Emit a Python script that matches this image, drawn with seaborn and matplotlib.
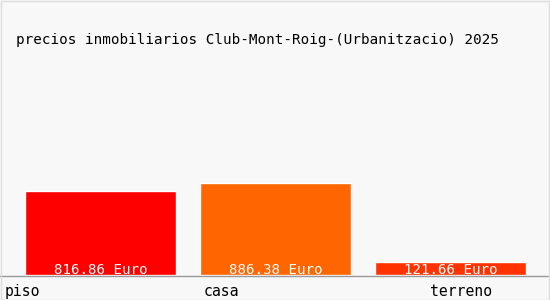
import matplotlib
matplotlib.use("Agg")
import matplotlib.pyplot as plt
import matplotlib.transforms as mtransforms
from matplotlib.patches import Rectangle
import seaborn as sns
import pandas as pd

categories = ["piso", "casa", "terreno"]
values = [816.86, 886.38, 121.66]
value_labels = ["816.86 Euro", "886.38 Euro", "121.66 Euro"]
colors = ["#FF0000", "#FF6600", "#FF3300"]
title = "precios inmobiliarios Club-Mont-Roig-(Urbanitzacio) 2025"

sns.set_theme(style="white")
plt.rcParams['font.family'] = ['DejaVu Sans Mono', 'DejaVu Sans']

bg = "#F8F8F8"
fig = plt.figure(figsize=(5.5, 3.0), dpi=100, facecolor=bg)
ax = fig.add_axes([0.0, 25/300, 548/550, 215/300])
ax.set_facecolor(bg)

df = pd.DataFrame({"cat": categories, "val": values})
sns.barplot(data=df, x="cat", y="val", hue="cat", palette=colors,
            width=151/175, legend=False, saturation=1, ax=ax, dodge=False)

ax.set_xlim(-100.5/175, (548-100.5)/175)
ax.set_ylim(0, 2080)
ax.set_xlabel("")
ax.set_ylabel("")
ax.set_yticks([])
ax.set_xticks([])
for s in ["top", "left", "right"]:
    ax.spines[s].set_visible(False)
ax.spines["bottom"].set_color("#999999")
ax.spines["bottom"].set_linewidth(1)
ax.spines["bottom"].set_position(("outward", 0.7))

for i, (v, lab) in enumerate(zip(values, value_labels)):
    ax.annotate(lab, xy=(i, 0), xytext=(0, 1.5), textcoords="offset pixels",
                ha="center", va="baseline", color="white", fontsize=10.2)

trans = mtransforms.blended_transform_factory(ax.transData, ax.transAxes)
label_pos = [(-0.55, "left"), (0.59, "left"), (2.06, "center")]
for (x, ha), lab in zip(label_pos, categories):
    ax.text(x, -0.04, lab, transform=trans, ha=ha, va="top",
            fontsize=10.6, color="black")

fig.text(258/550, 1 - 40/300, title, ha="center", va="center",
         fontsize=10.25, color="black")

fig.patches.append(Rectangle((0.5/550, 0.5/300), 548/550, 298.5/300,
                             transform=fig.transFigure, fill=False,
                             edgecolor="#DDDDDD", linewidth=1))

fig.savefig("out.png", dpi=100, facecolor=bg)
